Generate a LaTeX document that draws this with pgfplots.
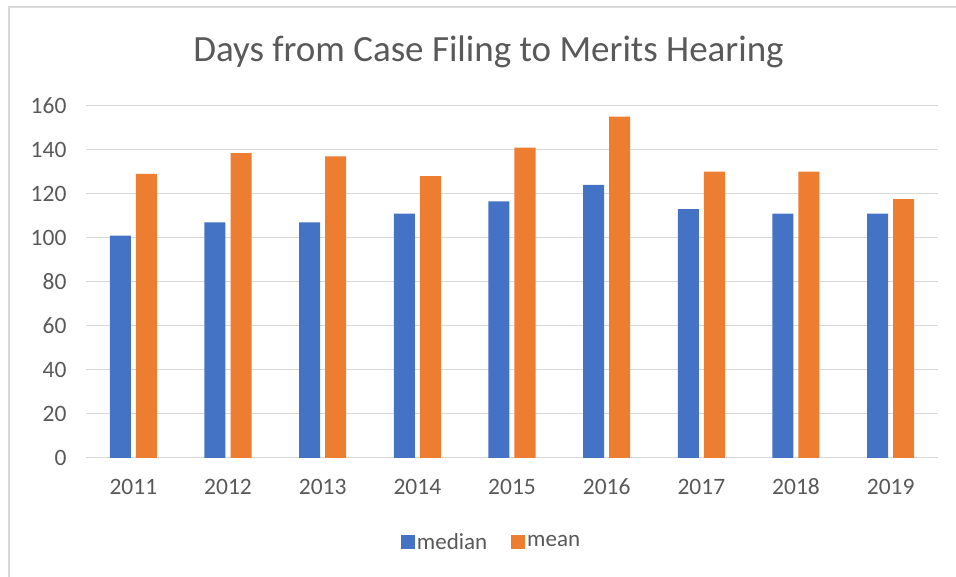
\documentclass[border=0pt]{standalone}
\usepackage{pgfplots}
\pgfplotsset{compat=1.18}
\usepackage{fontspec}
\setmainfont{Carlito}
\definecolor{cblue}{HTML}{4472C4}
\definecolor{corange}{HTML}{ED7D31}
\definecolor{gridc}{HTML}{D9D9D9}
\definecolor{txt}{HTML}{595959}
\begin{document}
\begin{tikzpicture}[x=1pt,y=1pt]
\path[use as bounding box] (0,0) rectangle (956,577);
\draw[color=gridc, line width=1.2pt] (9,0) -- (9,570) -- (956,570);
\node[text=txt, font=\fontsize{37}{43}\selectfont] at (488.5,525) {Days from Case Filing to Merits Hearing};
\begin{axis}[
  at={(86pt,119pt)}, anchor=south west,
  scale only axis, width=852pt, height=352.3pt,
  ymin=0, ymax=160, ytick={0,20,...,160},
  xmin=-0.5, xmax=8.5,
  xtick={0,...,8},
  xticklabels={2011,2012,2013,2014,2015,2016,2017,2018,2019},
  ybar=5pt, bar width=21pt,
  axis line style={draw=none},
  major tick length=0pt,
  ymajorgrids, grid style={color=gridc, line width=1pt},
  /pgf/number format/assume math mode=true,
  ticklabel style={font=\fontsize{23.5}{27}\selectfont, text=txt},
  yticklabel shift=16pt,
  xticklabel style={anchor=base},
  xticklabel shift=37pt,
  legend style={at={(0.476,-0.238)}, anchor=center, draw=none, fill=none,
    legend columns=2, font=\fontsize{23}{27}\selectfont, text=txt,
    /tikz/every even column/.append style={column sep=22pt}},
  legend image code/.code={\path[#1] (-3pt,-7pt) rectangle (11pt,7pt);},
]
\addplot[fill=cblue, draw=none] coordinates {(0,101) (1,107) (2,107) (3,111) (4,116.5) (5,124) (6,113) (7,111) (8,111)};
\addplot[fill=corange, draw=none] coordinates {(0,129) (1,138.5) (2,137) (3,128) (4,141) (5,155) (6,130) (7,130) (8,117.6)};
\legend{median, mean}
\end{axis}
\end{tikzpicture}
\end{document}
